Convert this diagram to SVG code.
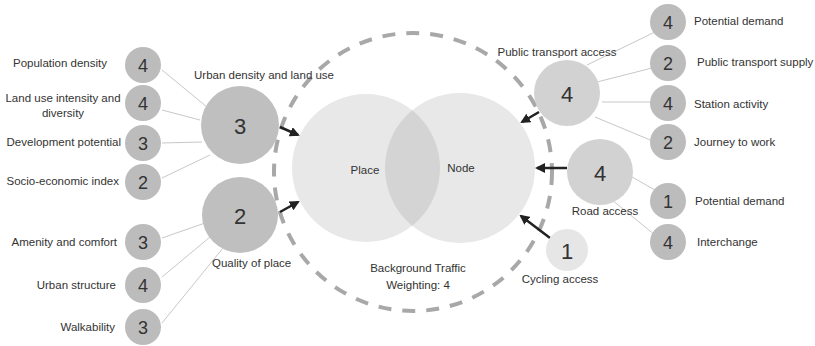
<svg xmlns="http://www.w3.org/2000/svg" width="815" height="346" viewBox="0 0 815 346">
<defs>
<style>
text{font-family:"Liberation Sans","Open Sans",sans-serif;fill:#333;}
.lbl{font-size:11.5px;}
.num{font-size:18px;text-anchor:middle;dominant-baseline:central;}
.big{font-size:22px;text-anchor:middle;dominant-baseline:central;}
.sm{fill:#bcbcbc;}
.thin{stroke:#c8c8c8;stroke-width:1;fill:none;}
.thick{stroke:#222;stroke-width:2.5;fill:none;marker-end:url(#ah);}
</style>
<marker id="ah" viewBox="0 0 10 10" refX="8" refY="5" markerWidth="4" markerHeight="4" orient="auto"><path d="M0,0 L10,5 L0,10 z" fill="#222"/></marker>
<clipPath id="cp"><circle cx="366" cy="168" r="74"/></clipPath>
</defs>
<rect width="815" height="346" fill="#fff"/>
<g id="venn">
<circle cx="366" cy="168" r="74" fill="#e8e8e8"/>
<circle cx="460" cy="168" r="75" fill="#e8e8e8"/>
<circle cx="460" cy="168" r="75" fill="#d4d4d4" clip-path="url(#cp)"/>
</g>
<circle id="traffic" cx="413" cy="172" r="139" fill="none" stroke="#a8a8a8" stroke-width="4" stroke-dasharray="13 11"/>
<g id="connectors">
<line class="thin" x1="162" y1="70" x2="207" y2="107"/>
<line class="thin" x1="162" y1="110" x2="200" y2="120"/>
<line class="thin" x1="162" y1="143" x2="202" y2="142"/>
<line class="thin" x1="162" y1="178" x2="210" y2="155"/>
<line class="thin" x1="162" y1="238" x2="205" y2="223"/>
<line class="thin" x1="162" y1="277" x2="210" y2="237"/>
<line class="thin" x1="162" y1="323" x2="223" y2="248"/>
<line class="thin" x1="655" y1="32" x2="587" y2="65"/>
<line class="thin" x1="652" y1="68" x2="597" y2="82"/>
<line class="thin" x1="652" y1="102" x2="602" y2="102"/>
<line class="thin" x1="655" y1="142" x2="595" y2="117"/>
<line class="thin" x1="655" y1="190" x2="632" y2="177"/>
<line class="thin" x1="655" y1="235" x2="612" y2="200"/>
<line class="thick" x1="280" y1="127" x2="298" y2="135"/>
<line class="thick" x1="280" y1="212" x2="298" y2="202"/>
<line class="thick" x1="539" y1="112" x2="522" y2="122"/>
<line class="thick" x1="567" y1="168" x2="537" y2="168"/>
<line class="thick" x1="550" y1="238" x2="521" y2="216"/>
</g>
<g id="place"><text class="lbl" x="365" y="174" text-anchor="middle">Place</text></g>
<g id="node"><text class="lbl" x="461" y="172" text-anchor="middle">Node</text></g>
<g id="traffic-label">
<text class="lbl" x="418" y="272" text-anchor="middle">Background Traffic</text>
<text class="lbl" x="418" y="289" text-anchor="middle">Weighting: 4</text>
</g>
<g id="urban-density"><circle cx="240" cy="125" r="39" fill="#bfbfbf"/><text class="big" x="240" y="126">3</text><text class="lbl" x="194" y="79">Urban density and land use</text></g>
<g id="quality-of-place"><circle cx="240" cy="215" r="38" fill="#bfbfbf"/><text class="big" x="240" y="216">2</text><text class="lbl" x="212" y="267">Quality of place</text></g>
<g id="pop-density"><circle class="sm" cx="143" cy="65" r="18"/><text class="num" x="143" y="66">4</text><text class="lbl" x="107" y="67" text-anchor="end">Population density</text></g>
<g id="land-use"><circle class="sm" cx="143" cy="103" r="18"/><text class="lbl" x="63" y="102" text-anchor="middle">Land use intensity and</text><text class="num" x="143" y="104">4</text><text class="lbl" x="63" y="117" text-anchor="middle">diversity</text></g>
<g id="dev-potential"><circle class="sm" cx="143" cy="143" r="18"/><text class="num" x="143" y="144">3</text><text class="lbl" x="121" y="146" text-anchor="end">Development potential</text></g>
<g id="socio"><circle class="sm" cx="143" cy="182" r="18"/><text class="num" x="143" y="183">2</text><text class="lbl" x="119" y="185" text-anchor="end">Socio-economic index</text></g>
<g id="amenity"><circle class="sm" cx="143" cy="242" r="18"/><text class="num" x="143" y="243">3</text><text class="lbl" x="117" y="246" text-anchor="end">Amenity and comfort</text></g>
<g id="urban-structure"><circle class="sm" cx="143" cy="285" r="18"/><text class="num" x="143" y="286">4</text><text class="lbl" x="116" y="289" text-anchor="end">Urban structure</text></g>
<g id="walkability"><circle class="sm" cx="143" cy="327" r="18"/><text class="num" x="143" y="328">3</text><text class="lbl" x="115" y="331" text-anchor="end">Walkability</text></g>
<g id="pt-access"><circle cx="567" cy="93" r="33" fill="#d2d2d2"/><text class="big" x="567" y="94">4</text><text class="lbl" x="557" y="56" text-anchor="middle">Public transport access</text></g>
<g id="road-access"><circle cx="600" cy="172" r="33" fill="#d2d2d2"/><text class="big" x="600" y="173">4</text><text class="lbl" x="605" y="215" text-anchor="middle">Road access</text></g>
<g id="cycling"><circle cx="567" cy="250" r="21" fill="#e6e6e6"/><text class="big" x="567" y="251">1</text><text class="lbl" x="560" y="283" text-anchor="middle">Cycling access</text></g>
<g id="pt-demand"><circle class="sm" cx="668" cy="22" r="18"/><text class="num" x="668" y="23">4</text><text class="lbl" x="694" y="25">Potential demand</text></g>
<g id="pt-supply"><circle class="sm" cx="668" cy="63" r="18"/><text class="num" x="668" y="64">2</text><text class="lbl" x="697" y="66">Public transport supply</text></g>
<g id="station"><circle class="sm" cx="668" cy="103" r="18"/><text class="num" x="668" y="104">4</text><text class="lbl" x="694" y="108">Station activity</text></g>
<g id="journey"><circle class="sm" cx="668" cy="142" r="18"/><text class="num" x="668" y="143">2</text><text class="lbl" x="694" y="146">Journey to work</text></g>
<g id="road-demand"><circle class="sm" cx="668" cy="201" r="18"/><text class="num" x="668" y="202">1</text><text class="lbl" x="695" y="205">Potential demand</text></g>
<g id="interchange"><circle class="sm" cx="668" cy="242" r="18"/><text class="num" x="668" y="243">4</text><text class="lbl" x="697" y="246">Interchange</text></g>
</svg>
